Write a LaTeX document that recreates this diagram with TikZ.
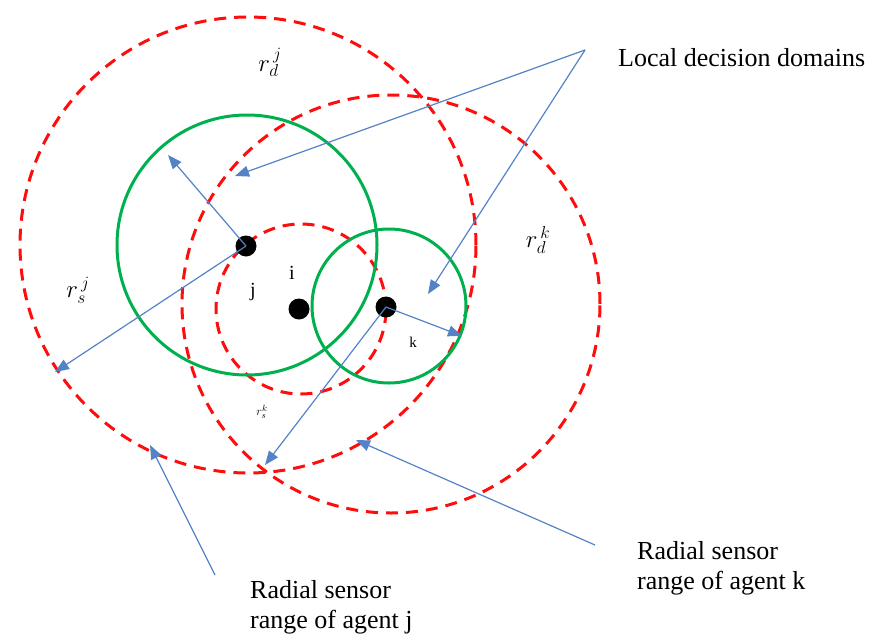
\documentclass[tikz,border=0pt]{standalone}
\usepackage{fontspec}
\setmainfont{Liberation Serif}
\usetikzlibrary{arrows.meta,positioning}
\definecolor{sensorred}{rgb}{1.00,0.05,0.05}
\definecolor{domaingreen}{rgb}{0.00,0.69,0.31}
\definecolor{pointerblue}{rgb}{0.33,0.51,0.78}
\tikzset{
  sensor/.style={
    draw=sensorred,
    line width=3pt,
    dash pattern=on 12pt off 8pt
  },
  decision/.style={
    draw=domaingreen,
    line width=3pt
  },
  agent/.style={
    circle,
    fill=black,
    minimum size=21pt,
    inner sep=0pt
  },
  pointer/.style={
    -{Triangle[length=14pt,width=11pt]},
    line width=1.2pt,
    pointerblue
  },
  callout/.style={
    align=left,
    inner sep=0pt,
    font=\fontsize{26}{30}\selectfont
  },
  tag/.style={
    inner sep=0pt,
    font=\fontsize{20}{24}\selectfont
  }
}

\begin{document}
\begin{tikzpicture}[x=1pt,y=-1pt]
\useasboundingbox (0,0) rectangle (870,635);
% sensor ranges and decision domains
\draw[sensor] (248,245) circle[radius=228pt];
\draw[sensor] (391,304) circle[radius=209pt];
\draw[sensor] (301,309) circle[radius=85pt];
\draw[decision] (247,245) circle[radius=130pt];
\draw[decision] (389,306) circle[radius=77pt];
% agents
\node[agent] (dj) at (246,246) {};
\node[agent] (di) at (299,309) {};
\node[agent] (dk) at (386,307) {};
\node[tag] (lj) at (253,292) {j};
\node[tag] (li) at (292,273) {i};
\node[tag, font=\fontsize{15}{18}\selectfont] (lk) at (413,342) {k};
% radii
\node[tag, font=\fontsize{26}{30}\selectfont] (rdj) at (270,62) {$r_d^{\,j}$};
\node[tag, font=\fontsize{26}{30}\selectfont] (rsj) at (78,290) {$r_s^{\,j}$};
\node[tag, font=\fontsize{26}{30}\selectfont] (rdk) at (538,240) {$r_d^{\,k}$};
\node[tag, font=\fontsize{13}{15}\selectfont] (rsk) at (262,412) {$r_s^{k}$};
\coordinate (dj-dom) at (168,155);
\coordinate (dj-sen) at (55,372);
\coordinate (dk-dom) at (462,336);
\coordinate (dk-sen) at (265,465);
\draw[pointer] (dj.center) -- (dj-dom);
\draw[pointer] (dj.center) -- (dj-sen);
\draw[pointer] (dk.center) -- (dk-dom);
\draw[pointer] (dk.center) -- (dk-sen);
% callouts
\node[callout, anchor=west] (ldd) at (618,58) {Local decision domains};
\node[callout, anchor=north west] (rsj-txt) at (250,580) {Radial sensor\\range of agent j};
\node[callout, anchor=north west] (rsk-txt) at (637,541) {Radial sensor\\range of agent k};
\coordinate (ldd-foot) at (585,50);
\coordinate (rsj-foot) at (215,575);
\coordinate (rsk-foot) at (595,545);
\coordinate (ldd-j) at (235,176);
\coordinate (ldd-k) at (428,294);
\coordinate (rsj-tip) at (150,445);
\coordinate (rsk-tip) at (356,440);
\draw[pointer] (ldd-foot) -- (ldd-j);
\draw[pointer] (ldd-foot) -- (ldd-k);
\draw[pointer] (rsj-foot) -- (rsj-tip);
\draw[pointer] (rsk-foot) -- (rsk-tip);
\end{tikzpicture}
\end{document}
